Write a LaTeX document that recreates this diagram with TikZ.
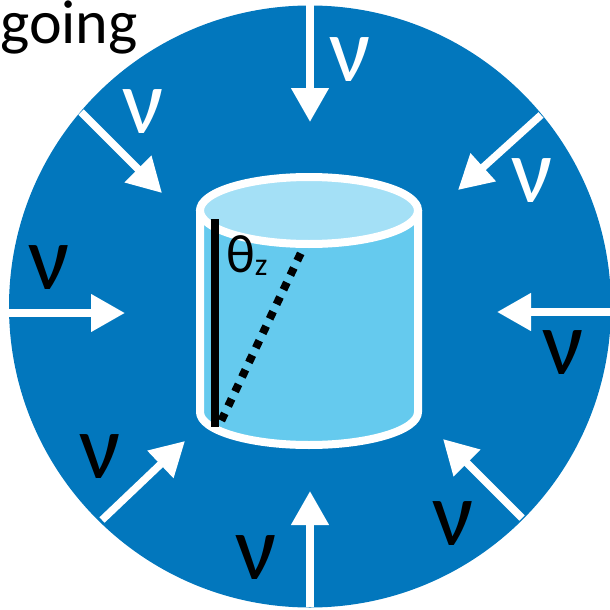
\documentclass[tikz,border=0pt]{standalone}
\usepackage{fontspec}
\setmainfont{Carlito}
\usetikzlibrary{arrows.meta}
\definecolor{ringblue}{HTML}{0277BD}
\definecolor{bodyblue}{HTML}{65CAEE}
\definecolor{lidblue}{HTML}{A4E0F6}

\begin{document}
\begin{tikzpicture}[x=1pt,y=-1pt,
  flow/.style={-{Triangle[length=34pt,width=36pt]},draw=white,line width=7.5pt},
  nu/.style={inner sep=0pt,font=\fontsize{92}{92}\selectfont},
  wall/.style={draw=white,line width=8pt}]
\useasboundingbox (0,0) rectangle (610,610);
\fill[ringblue] (310,306.5) circle[radius=301];
\node[anchor=base west,inner sep=0pt,font=\fontsize{62}{62}\selectfont] (going) at (0,44) {going};
% cylinder
\path[wall,fill=bodyblue,line join=round] (200,210) -- (200,412) arc[start angle=180,end angle=0,x radius=109,y radius=33] -- (418,210) -- cycle;
\draw[wall,fill=lidblue] (309,210.5) ellipse[x radius=109,y radius=33.5];
\draw[line width=8pt] (215,219) -- (215,427);
\draw[line width=8pt,dash pattern=on 8pt off 8.1pt] (221.3,420.6) -- (300.7,253.4);
\node[inner sep=0pt,anchor=base west,font=\fontsize{54}{54}\selectfont] (theta) at (226,272) {θ\raisebox{-3pt}{\fontsize{32}{32}\selectfont z}};
% inflow arrows
\draw[flow] (310,5) -- (310,122);
\draw[flow] (9,313) -- (125,313);
\draw[flow] (610,312) -- (497,312);
\draw[flow] (310,607) -- (310,491);
\draw[flow] (81,112) -- (162,193);
\draw[flow] (541,115) -- (458,190);
\draw[flow] (102,520) -- (185,441);
\draw[flow] (522,518) -- (443,439);
% nu labels
\node[nu,text=white] (nutop) at (350,60) {ν};
\node[nu,text=white] (nuul) at (143,112) {ν};
\node[nu,text=white] (nuur) at (532,181) {ν};
\node[nu] (nuleft) at (49,268) {ν};
\node[nu] (nuright) at (563,353) {ν};
\node[nu] (null) at (100,457) {ν};
\node[nu] (nulr) at (453,524) {ν};
\node[nu] (nubot) at (256,558) {ν};
\end{tikzpicture}
\end{document}
